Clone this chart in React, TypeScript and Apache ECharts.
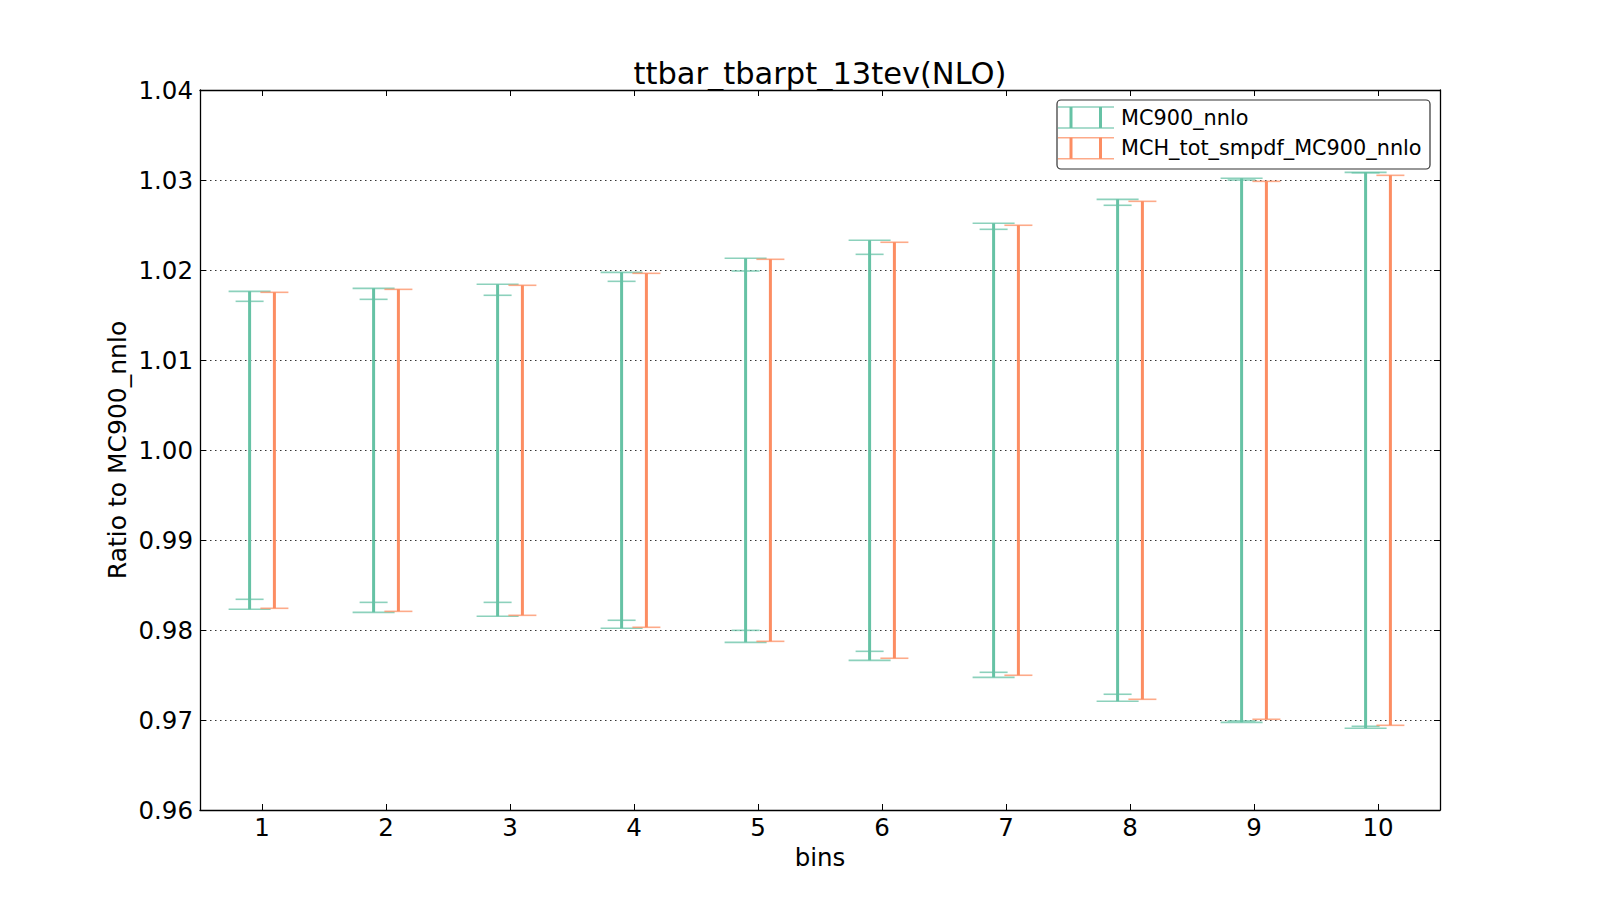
import React, { useEffect, useRef } from 'react';
import * as echarts from 'echarts';

const bins = ['1', '2', '3', '4', '5', '6', '7', '8', '9', '10'];
const yTicks = { min: 0.96, max: 1.04, interval: 0.01 };

// MC900_nnlo: outer and inner bands
const mc900OuterHigh = [1.01763, 1.01796, 1.01841, 1.01974, 1.0213, 1.0233, 1.02519, 1.02785, 1.03019, 1.03085];
const mc900InnerHigh = [1.01652, 1.01674, 1.01719, 1.01874, 1.01989, 1.02174, 1.02452, 1.02719, 1.03, 1.0308];
const mc900InnerLow = [0.98341, 0.98307, 0.98307, 0.98108, 0.97996, 0.97763, 0.9753, 0.97286, 0.96989, 0.9693];
const mc900OuterLow = [0.9823, 0.98196, 0.98152, 0.98019, 0.97863, 0.97663, 0.97474, 0.97208, 0.96974, 0.96908];

// MCH_tot_smpdf_MC900_nnlo
const mchHigh = [1.01752, 1.01785, 1.0183, 1.01963, 1.02119, 1.02308, 1.02497, 1.02763, 1.02985, 1.03052];
const mchLow = [0.98241, 0.98207, 0.98163, 0.9803, 0.97874, 0.97686, 0.97497, 0.9723, 0.97008, 0.96941];

const seriesNames = ['MC900_nnlo', 'MCH_tot_smpdf_MC900_nnlo'];
const colors = ['#66c2a5', '#fc8d62'];
const FONT = 'DejaVu Sans';

const greenData = bins.map((_, i) => [i, mc900OuterLow[i], mc900OuterHigh[i], mc900InnerLow[i], mc900InnerHigh[i]]);
const orangeData = bins.map((_, i) => [i, mchLow[i], mchHigh[i]]);

function capLine(x: number, y: number, half: number, color: string) {
  return {
    type: 'line',
    shape: { x1: x - half, y1: y, x2: x + half, y2: y },
    style: { stroke: color, lineWidth: 1.6, opacity: 0.75 },
  };
}

function makeRender(color: string, shift: number, outerHalf: number, withInner: boolean) {
  return (params: any, api: any) => {
    const idx = api.value(0);
    const band = api.size([1, 0])[0];
    const lo = api.coord([idx, api.value(1)]);
    const hi = api.coord([idx, api.value(2)]);
    const x = lo[0] + shift * band;
    const children: any[] = [
      {
        type: 'line',
        shape: { x1: x, y1: lo[1], x2: x, y2: hi[1] },
        style: { stroke: color, lineWidth: 3 },
      },
      capLine(x, lo[1], outerHalf, color),
      capLine(x, hi[1], outerHalf, color),
    ];
    if (withInner) {
      const ilo = api.coord([idx, api.value(3)]);
      const ihi = api.coord([idx, api.value(4)]);
      children.push(capLine(x, ilo[1], 14, color));
      children.push(capLine(x, ihi[1], 14, color));
    }
    return { type: 'group', children };
  };
}

function legendRow(cy: number, color: string, label: string) {
  const x0 = 1058;
  const x1 = 1114;
  const h = 10.5;
  return [
    { type: 'line', shape: { x1: x0, y1: cy - h, x2: x1, y2: cy - h }, style: { stroke: color, lineWidth: 1.6, opacity: 0.75 } },
    { type: 'line', shape: { x1: x0, y1: cy + h, x2: x1, y2: cy + h }, style: { stroke: color, lineWidth: 1.6, opacity: 0.75 } },
    { type: 'line', shape: { x1: 1071, y1: cy - h, x2: 1071, y2: cy + h }, style: { stroke: color, lineWidth: 3 } },
    { type: 'line', shape: { x1: 1100.5, y1: cy - h, x2: 1100.5, y2: cy + h }, style: { stroke: color, lineWidth: 3 } },
    {
      type: 'text',
      x: 1121,
      y: cy,
      style: { text: label, fontSize: 20.8, fontFamily: FONT, fill: '#000', align: 'left', verticalAlign: 'middle', textAlign: 'left', textVerticalAlign: 'middle' },
    },
  ];
}

export default function App() {
  const ref = useRef<HTMLDivElement>(null);
  useEffect(() => {
    const chart = echarts.init(ref.current!, null, { renderer: 'svg' });
    const axisLine = { show: true, onZero: false, lineStyle: { color: '#000', width: 1.3 } };
    const tick = { show: true, inside: true, length: 6, lineStyle: { color: '#000', width: 1 } };
    chart.setOption({
      animation: false,
      backgroundColor: '#fff',
      grid: { left: 200, top: 90, right: 160, bottom: 90, containLabel: false },
      xAxis: [
        {
          type: 'category',
          data: bins,
          position: 'bottom',
          axisLine,
          axisTick: { ...tick, alignWithLabel: true },
          axisLabel: { fontSize: 24.5, fontFamily: FONT, color: '#000', margin: 5 },
          splitLine: { show: false },
        },
        {
          type: 'category',
          data: bins,
          position: 'top',
          axisLine,
          axisTick: { ...tick, alignWithLabel: true },
          axisLabel: { show: false },
          splitLine: { show: false },
        },
      ],
      yAxis: [
        {
          type: 'value',
          min: yTicks.min,
          max: yTicks.max,
          interval: yTicks.interval,
          position: 'left',
          axisLine,
          axisTick: tick,
          axisLabel: { fontSize: 24.5, fontFamily: FONT, color: '#000', margin: 7, formatter: (v: number) => v.toFixed(2) },
          splitLine: { show: true, lineStyle: { color: '#333', width: 1, type: [1.5, 3.5] } },
        },
        {
          type: 'value',
          min: yTicks.min,
          max: yTicks.max,
          interval: yTicks.interval,
          position: 'right',
          axisLine,
          axisTick: tick,
          axisLabel: { show: false },
          splitLine: { show: false },
        },
      ],
      series: [
        {
          name: seriesNames[0],
          type: 'custom',
          xAxisIndex: 0,
          yAxisIndex: 0,
          data: greenData,
          encode: { x: 0, y: [1, 2, 3, 4] },
          renderItem: makeRender(colors[0], -0.1, 21, true),
          z: 3,
        },
        {
          name: seriesNames[1],
          type: 'custom',
          xAxisIndex: 0,
          yAxisIndex: 0,
          data: orangeData,
          encode: { x: 0, y: [1, 2] },
          renderItem: makeRender(colors[1], 0.1, 14, false),
          z: 4,
        },
      ],
      graphic: [
        {
          type: 'text',
          x: 820,
          y: 73,
          style: { text: 'ttbar_tbarpt_13tev(NLO)', fontSize: 30.5, fontFamily: FONT, fill: '#000', align: 'center', verticalAlign: 'middle', textAlign: 'center', textVerticalAlign: 'middle' },
        },
        {
          type: 'text',
          x: 820,
          y: 857,
          style: { text: 'bins', fontSize: 24.5, fontFamily: FONT, fill: '#000', align: 'center', verticalAlign: 'middle', textAlign: 'center', textVerticalAlign: 'middle' },
        },
        {
          type: 'text',
          x: 117,
          y: 450,
          rotation: Math.PI / 2,
          style: { text: 'Ratio to MC900_nnlo', fontSize: 25, fontFamily: FONT, fill: '#000', align: 'center', verticalAlign: 'middle', textAlign: 'center', textVerticalAlign: 'middle' },
        },
        {
          type: 'group',
          z: 100,
          children: [
            {
              type: 'rect',
              shape: { x: 1057, y: 100, width: 373, height: 69, r: 4 },
              style: { fill: '#fff', stroke: '#333', lineWidth: 1.2 },
            },
            ...legendRow(117.5, colors[0], seriesNames[0]),
            ...legendRow(148.2, colors[1], seriesNames[1]),
          ],
        },
      ],
    });
    return () => chart.dispose();
  }, []);
  return <div ref={ref} style={{ position: 'fixed', left: 0, top: 0, width: 1600, height: 900, background: '#fff' }} />;
}
